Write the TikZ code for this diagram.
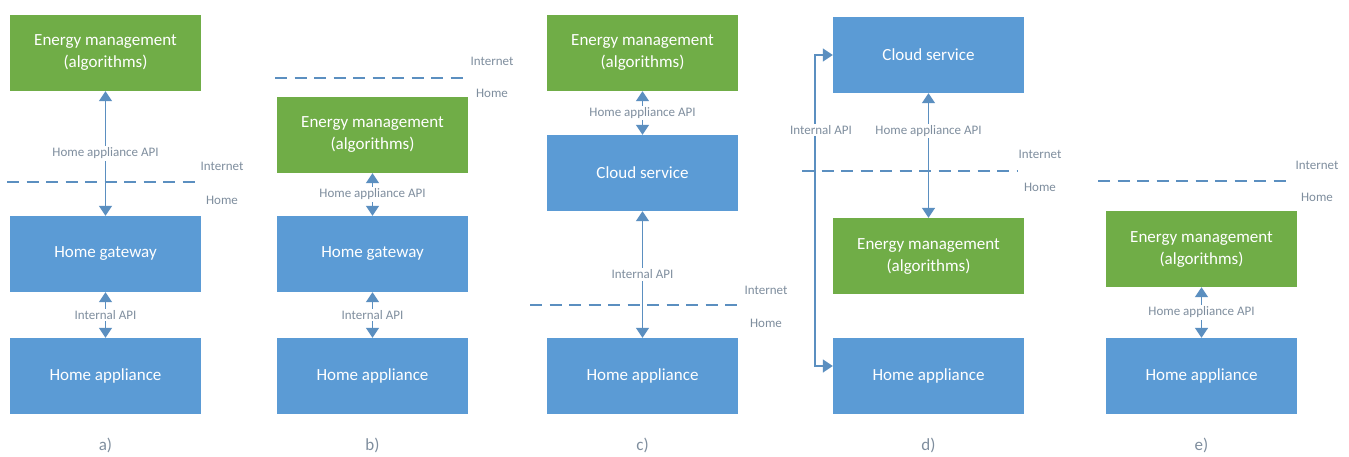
\documentclass[tikz,border=0pt]{standalone}
\usepackage{fontspec}
\setmainfont{Carlito}
\usetikzlibrary{arrows.meta}
\definecolor{emgreen}{HTML}{70AD47}
\definecolor{cblue}{HTML}{5B9BD5}
\definecolor{lineblue}{HTML}{5B8FC0}
\definecolor{lblgray}{HTML}{7F8E9E}
\begin{document}
\begin{tikzpicture}[x=1pt,y=-1pt,
 box/.style={draw=none, minimum width=191pt, minimum height=76pt, inner sep=0pt, font=\fontsize{17}{22}\selectfont, text=white, align=center},
 gbox/.style={box, fill=emgreen},
 bbox/.style={box, fill=cblue},
 conn/.style={draw=lineblue, line width=1.6pt, {Triangle[width=13pt,length=10pt]}-{Triangle[width=13pt,length=10pt]}},
 lbl/.style={font=\fontsize{13}{15}\selectfont, text=lblgray, fill=white, inner sep=1.5pt},
 zone/.style={draw=lineblue, line width=1.5pt, dash pattern=on 12pt off 7.5pt},
 zlbl/.style={font=\fontsize{13}{15}\selectfont, text=lblgray},
 capt/.style={font=\fontsize{17}{19}\selectfont, text=lblgray}
]
\path[fill=white] (0,0) rectangle (1349,456);

% ---- a)
\node[gbox] (a1) at (105.5,53) {Energy management\\(algorithms)};
\node[bbox] (a2) at (105.5,254) {Home gateway};
\node[bbox] (a3) at (105.5,376) {Home appliance};
\draw[zone] (7,182) -- (197,182);
\draw[conn] (a1) -- node[lbl]{Home appliance API} (a2);
\draw[conn] (a2) -- node[lbl]{Internal API} (a3);
\node[zlbl] (ai) at (222,166) {Internet};
\node[zlbl] (ah) at (222,200) {Home};
\node[capt] (ac) at (105.5,445) {a)};

% ---- b)
\node[gbox] (b1) at (372.5,135) {Energy management\\(algorithms)};
\node[bbox] (b2) at (372.5,254) {Home gateway};
\node[bbox] (b3) at (372.5,376) {Home appliance};
\draw[zone] (275,78) -- (468,78);
\draw[conn] (b1) -- node[lbl]{Home appliance API} (b2);
\draw[conn] (b2) -- node[lbl]{Internal API} (b3);
\node[zlbl] (bi) at (492,61) {Internet};
\node[zlbl] (bh) at (492,93) {Home};
\node[capt] (bc) at (372.5,445) {b)};

% ---- c)
\node[gbox] (c1) at (642.5,53) {Energy management\\(algorithms)};
\node[bbox] (c2) at (642.5,173) {Cloud service};
\node[bbox] (c3) at (642.5,376) {Home appliance};
\draw[zone] (530,305) -- (742,305);
\draw[conn] (c1) -- node[lbl]{Home appliance API} (c2);
\draw[conn] (c2) -- node[lbl]{Internal API} (c3);
\node[zlbl] (ci) at (766,290) {Internet};
\node[zlbl] (ch) at (766,323) {Home};
\node[capt] (cc) at (642.5,445) {c)};

% ---- d)
\node[bbox] (d1) at (928.5,55) {Cloud service};
\node[gbox] (d2) at (928.5,256) {Energy management\\(algorithms)};
\node[bbox] (d3) at (928.5,376) {Home appliance};
\draw[zone] (802,171) -- (1018,171);
\draw[conn] (d1) -- node[lbl, pos=0.3]{Home appliance API} (d2);
\coordinate (dk) at (815,55);
\draw[conn] (d1.west) -- (dk) |- ([yshift=10pt]d3.west);
\node[lbl] (dl) at (821,130) {Internal API};
\node[zlbl] (di) at (1040,154) {Internet};
\node[zlbl] (dh) at (1040,187) {Home};
\node[capt] (dc) at (928.5,445) {d)};

% ---- e)
\node[gbox] (e1) at (1201.5,249) {Energy management\\(algorithms)};
\node[bbox] (e2) at (1201.5,376) {Home appliance};
\draw[zone] (1098,181) -- (1293,181);
\draw[conn] (e1) -- node[lbl]{Home appliance API} (e2);
\node[zlbl] (ei) at (1317,165) {Internet};
\node[zlbl] (eh) at (1317,197) {Home};
\node[capt] (ec) at (1201.5,445) {e)};
\end{tikzpicture}
\end{document}
